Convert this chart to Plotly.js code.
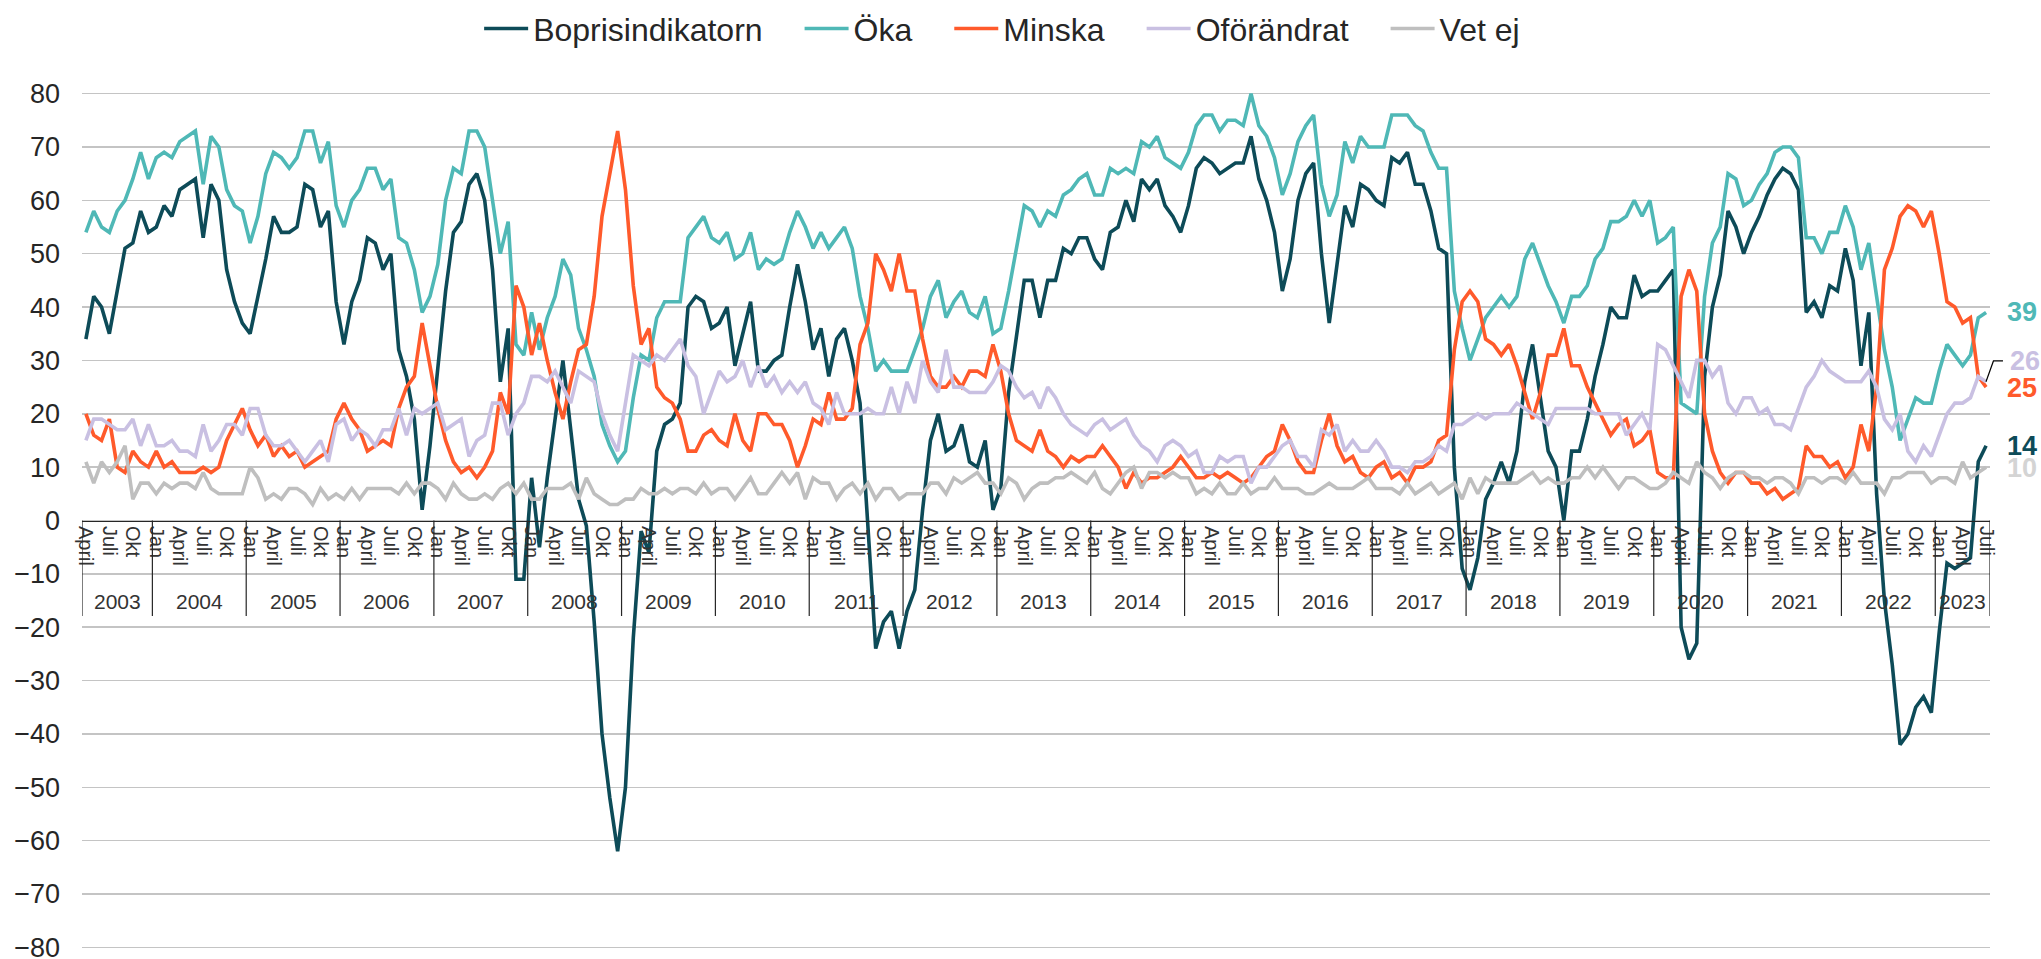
<!DOCTYPE html>
<html><head><meta charset="utf-8">
<script src="https://cdn.plot.ly/plotly-3.0.1.min.js"></script>
<style>html,body{margin:0;padding:0;background:#fff}#chart{width:2041px;height:959px}</style>
</head><body><div id="chart"></div>
<script>
// Monthly values, April 2003 – July 2023
const boprisindikatorn = [
34,42,40,35,43,51,52,58,54,55,59,57,
62,63,64,53,63,60,47,41,37,35,42,49,
57,54,54,55,63,62,55,58,41,33,41,45,
53,52,47,50,32,27,19,2,14,28,43,54,
56,63,65,60,47,26,36,-11,-11,8,-5,8,
19,30,17,4,-1,-19,-40,-52,-62,-50,-22,-2,
-6,13,18,19,22,40,42,41,36,37,40,29,
35,41,28,28,30,31,40,48,41,32,36,27,
34,36,30,22,-1,-24,-19,-17,-24,-17,-13,2,
15,20,13,14,18,11,10,15,2,6,24,35,
45,45,38,45,45,51,50,53,53,49,47,54,
55,60,56,64,62,64,59,57,54,59,66,68,
67,65,66,67,67,72,64,60,54,43,49,60,
65,67,50,37,48,59,55,63,62,60,59,68,
67,69,63,63,58,51,50,10,-9,-13,-7,4,
7,11,7,13,26,33,23,13,10,0,13,13,
19,27,33,40,38,38,46,42,43,43,45,47,
-20,-26,-23,27,40,46,58,55,50,54,57,61,
64,66,65,62,39,41,38,44,43,51,45,29,
39,5,-15,-27,-42,-40,-35,-33,-36,-21,-8,-9,
-8,-7,11,14];
const oka = [
54,58,55,54,58,60,64,69,64,68,69,68,
71,72,73,63,72,70,62,59,58,52,57,65,
69,68,66,68,73,73,67,71,59,55,60,62,
66,66,62,64,53,52,47,39,42,48,60,66,
65,73,73,70,60,50,56,33,31,39,32,38,
42,49,46,36,32,27,18,14,11,13,23,31,
30,38,41,41,41,53,55,57,53,52,54,49,
50,54,47,49,48,49,54,58,55,51,54,51,
53,55,51,42,36,28,30,28,28,28,32,36,
42,45,38,41,43,39,38,42,35,36,43,51,
59,58,55,58,57,61,62,64,65,61,61,66,
65,66,65,71,70,72,68,67,66,69,74,76,
76,73,75,75,74,80,74,72,68,61,65,71,
74,76,63,57,61,71,67,72,70,70,70,76,
76,76,74,73,69,66,66,43,36,30,34,38,
40,42,40,42,49,52,48,44,41,37,42,42,
44,49,51,56,56,57,60,57,60,52,53,55,
22,21,20,42,52,55,65,64,59,60,63,65,
69,70,70,68,53,53,50,54,54,59,55,47,
52,42,32,25,15,19,23,22,22,28,33,31,
29,31,38,39];
const minska = [
20,16,15,19,10,9,13,11,10,13,10,11,
9,9,9,10,9,10,15,18,21,17,14,16,
12,14,12,13,10,11,12,13,19,22,19,17,
13,14,15,14,21,25,27,37,29,21,15,11,
9,10,8,10,13,24,20,44,40,31,37,30,
24,19,26,32,33,42,57,65,73,62,44,33,
36,25,23,22,19,13,13,16,17,15,14,20,
15,13,20,20,18,18,15,10,14,19,18,24,
19,19,21,33,37,50,47,43,50,43,43,34,
27,25,25,27,25,28,28,27,33,28,20,15,
14,13,17,13,12,10,12,11,12,12,14,12,
10,6,9,7,8,8,9,10,12,10,8,8,
9,8,9,8,7,8,10,12,13,18,15,11,
9,9,15,20,14,11,12,9,8,10,11,8,
9,7,10,10,11,15,16,32,41,43,41,34,
33,31,33,29,24,19,24,31,31,36,29,29,
25,22,19,16,18,19,14,15,17,9,8,8,
42,47,43,20,13,9,7,9,9,7,7,5,
6,4,5,6,14,12,12,10,11,8,10,18,
13,25,47,51,57,59,58,55,58,50,41,40,
37,38,27,25];
const oforandrat = [
15,19,19,18,17,17,19,14,18,14,14,15,
13,13,12,18,13,15,18,18,16,21,21,16,
14,14,15,13,11,13,15,11,18,19,15,17,
16,14,17,17,21,16,21,20,21,22,17,18,
19,12,15,16,22,22,16,20,22,27,27,26,
28,25,22,28,27,26,20,16,13,22,31,30,
29,31,30,32,34,29,27,20,24,28,26,27,
30,25,29,25,27,24,26,24,26,22,21,18,
24,20,20,20,21,20,20,25,20,26,22,30,
26,24,32,25,25,24,24,24,26,29,28,25,
23,24,21,25,23,20,18,17,16,18,19,17,
18,19,16,14,13,11,14,15,14,12,13,9,
9,12,11,12,12,7,10,10,12,14,15,12,
12,10,17,16,18,13,15,13,13,15,13,10,
10,9,11,11,12,14,13,18,18,19,20,19,
20,20,20,22,21,20,19,18,21,21,21,21,
21,20,20,20,20,16,18,20,17,33,32,29,
26,23,30,30,27,29,22,20,23,23,20,21,
18,18,17,21,25,27,30,28,27,26,26,26,
28,25,19,17,20,13,11,14,12,16,20,22,
22,23,27,26];
const vetEj = [
11,7,11,9,11,14,4,7,7,5,7,6,
7,7,6,9,6,5,5,5,5,10,8,4,
5,4,6,6,5,3,6,4,5,4,6,4,
6,6,6,6,5,7,5,7,7,6,4,7,
5,4,4,5,4,6,7,5,7,4,4,6,
6,6,7,4,8,5,4,3,3,4,4,6,
5,5,6,5,6,6,5,7,5,6,6,4,
6,8,5,5,7,9,7,9,4,8,7,7,
4,6,7,5,7,4,6,6,4,5,5,5,
7,7,5,8,7,8,9,7,7,5,8,7,
4,6,7,7,8,8,9,8,7,9,6,5,
7,9,10,6,9,9,8,9,8,8,5,6,
5,7,5,5,7,5,6,6,8,6,6,6,
5,5,6,7,6,6,6,7,8,6,6,6,
5,7,5,6,7,5,6,7,4,8,5,8,
7,7,7,7,8,9,7,8,7,7,8,8,
10,8,10,8,6,8,8,7,6,6,7,9,
8,7,11,9,8,6,8,9,9,8,8,7,
8,8,7,5,8,8,7,8,8,7,9,7,
7,7,5,8,8,9,9,9,7,8,8,7,
11,8,9,10];

const seriesNames = ['Boprisindikatorn','Öka','Minska','Oförändrat','Vet ej'];
const seriesColors = ['#0d4b58','#4fb8b6','#ff5a2b','#c9c0e2','#bfbfbf'];
const labelColors = ['#0d4b58','#4fb8b6','#ff5a2b','#c9c0e2','#d4d4d4'];
const monthTickCycle = ['April','Juli','Okt','Jan'];
const years = ['2003','2004','2005','2006','2007','2008','2009','2010','2011','2012','2013',
  '2014','2015','2016','2017','2018','2019','2020','2021','2022','2023'];

const allSeries = [boprisindikatorn, oka, minska, oforandrat, vetEj];
const n = boprisindikatorn.length;
const xs = boprisindikatorn.map((_, i) => i);

const traces = allSeries.map((ys, k) => ({
  type: 'scatter', mode: 'lines', x: xs, y: ys,
  name: seriesNames[k] + (k < allSeries.length - 1 ? '\u2003' : ''),
  line: {color: seriesColors[k], width: 3.6}, hoverinfo: 'skip'
}));

const tickvals = [], ticktext = [];
for (let i = 0; i < n; i += 3) { tickvals.push(i); ticktext.push(monthTickCycle[(i / 3) % 4]); }

const shapes = [];
const annotations = [];
const axisColor = '#262626';
const sepBottom = -17.9;
// year separators
const bounds = [-0.5];
for (let k = 0; k < years.length - 1; k++) bounds.push(8.5 + 12 * k);
bounds.push(n - 0.5);
bounds.forEach(b => shapes.push({type: 'line', xref: 'x', yref: 'y', x0: b, x1: b, y0: 0, y1: sepBottom,
  line: {color: axisColor, width: 1.2}, layer: 'above'}));
years.forEach((yr, k) => {
  const c = (bounds[k] + bounds[k + 1]) / 2;
  annotations.push({xref: 'x', yref: 'y', x: c, y: -15.2, text: yr, showarrow: false,
    xanchor: 'center', yanchor: 'middle', font: {size: 21, color: '#333333'}});
});

// end labels
const endY = [14, 39, 24.8, 29.9, 9.8];
const endX = [1.0078, 1.0078, 1.0078, 1.0092, 1.0078];
allSeries.forEach((ys, k) => {
  annotations.push({xref: 'paper', yref: 'y', x: endX[k], y: endY[k], xanchor: 'left', yanchor: 'middle',
    text: '<b>' + ys[n - 1] + '</b>', showarrow: false, font: {size: 27, color: labelColors[k]}});
});
// leader line for Oförändrat label
shapes.push({type: 'path', xref: 'paper', yref: 'y',
  path: 'M 0.9979 ' + oforandrat[n - 1] + ' L 1.0018 29.9 L 1.0068 29.9',
  line: {color: '#000000', width: 1.2}});

const layout = {
  width: 2041, height: 959,
  margin: {l: 82, r: 51, t: 92, b: 10},
  paper_bgcolor: '#ffffff', plot_bgcolor: '#ffffff',
  font: {family: 'Liberation Sans, Arial, sans-serif', color: '#262626'},
  showlegend: true,
  legend: {orientation: 'h', xref: 'container', yref: 'container', x: 0.491, xanchor: 'center',
    y: 0.970, yanchor: 'middle', font: {size: 32, color: '#262626'}, itemwidth: 44},
  xaxis: {range: [-0.5, n - 0.5], anchor: 'free', position: 0.5, tickmode: 'array',
    tickvals: tickvals, ticktext: ticktext, tickangle: 90, showgrid: false, zeroline: false,
    showline: true, linecolor: axisColor, linewidth: 1.5, ticks: '',
    tickfont: {size: 20, color: '#333333'}, fixedrange: true},
  yaxis: {range: [-80.3, 80.3], tickmode: 'array',
    tickvals: [-80,-70,-60,-50,-40,-30,-20,-10,0,10,20,30,40,50,60,70,80],
    showgrid: true, gridcolor: '#c4c4c4', gridwidth: 1.6, ticklabeloverflow: 'allow',
    zeroline: false, showline: false, ticks: '', tickfont: {size: 27, color: '#262626'},
    ticklabelstandoff: 21, fixedrange: true},
  shapes: shapes, annotations: annotations
};

Plotly.newPlot('chart', traces, layout, {displayModeBar: false, staticPlot: true});
</script></body></html>
